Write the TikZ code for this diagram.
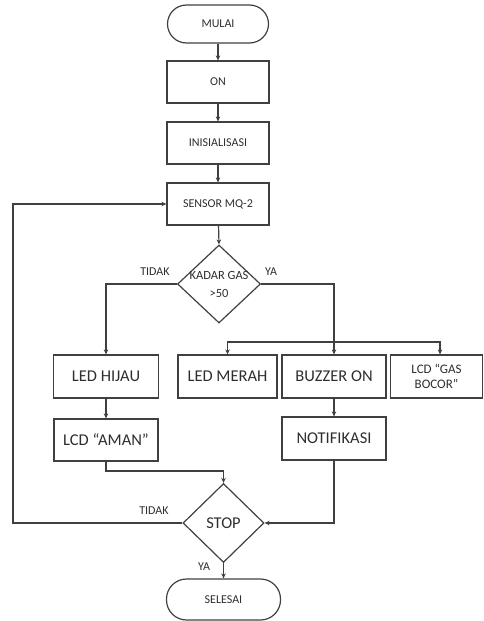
\documentclass[tikz,border=0pt]{standalone}
\usepackage{fontspec}
\setmainfont{Carlito}
\usetikzlibrary{shapes.geometric,arrows.meta}
\definecolor{ln}{HTML}{404040}
\definecolor{tx}{HTML}{2E2E2E}
\begin{document}
\begin{tikzpicture}[x=1pt,y=-1pt,
  base/.style={draw=ln,line width=1.2pt,text=tx,inner sep=0pt,align=center},
  term/.style={base,rectangle,rounded corners=19pt,font=\fontsize{12}{14}\selectfont},
  sbox/.style={base,rectangle,font=\fontsize{12}{14}\selectfont},
  bbox/.style={base,rectangle,font=\fontsize{16.5}{18}\selectfont},
  dec/.style={base,diamond},
  lbl/.style={text=tx,font=\fontsize{12}{14}\selectfont,inner sep=0pt},
  arr/.style={draw=ln,line width=1.2pt,-{Stealth[length=5pt,width=4.5pt]}}]
\useasboundingbox (0,0) rectangle (484,621);
\node[term,minimum width=101pt,minimum height=38pt] (mulai) at (218,24) {MULAI};
\node[sbox,minimum width=102pt,minimum height=42pt] (on) at (218,82) {ON};
\node[sbox,minimum width=102pt,minimum height=42pt] (init) at (218,143) {INISIALISASI};
\node[sbox,minimum width=102pt,minimum height=42pt] (sensor) at (218,204) {SENSOR MQ-2};
\node[dec,minimum width=83pt,minimum height=78pt,
  label={[text=tx,font=\fontsize{12.5}{18}\selectfont,align=center]center:KADAR GAS\\>50}] (kadar) at (219,284) {};
\node[bbox,minimum width=105pt,minimum height=43pt] (ledhijau) at (106,376.5) {LED HIJAU};
\node[bbox,minimum width=99pt,minimum height=43pt] (ledmerah) at (227.5,376.5) {LED MERAH};
\node[bbox,minimum width=104pt,minimum height=43pt] (buzzer) at (334,376.5) {BUZZER ON};
\node[base,font=\fontsize{13}{15}\selectfont,minimum width=92pt,minimum height=43pt] (lcdgas) at (436.5,376.5) {LCD “GAS\\BOCOR”};
\node[bbox,minimum width=104pt,minimum height=42pt] (lcdaman) at (106,440) {LCD “AMAN”};
\node[bbox,minimum width=104pt,minimum height=43pt] (notif) at (334,438.5) {NOTIFIKASI};
\node[dec,minimum width=81pt,minimum height=79pt,
  label={[text=tx,font=\fontsize{16.5}{18}\selectfont]center:STOP}] (stop) at (223.5,523) {};
\node[term,rounded corners=20pt,minimum width=114pt,minimum height=41pt] (selesai) at (223.5,599.5) {SELESAI};
% labels
\node[lbl] (t1) at (155,272) {TIDAK};
\node[lbl] (y1) at (271,272) {YA};
\node[lbl] (t2) at (154,511) {TIDAK};
\node[lbl] (y2) at (204,567) {YA};
% coordinates
\coordinate (split) at (334,342);
\coordinate (j1) at (223.5,471);
\coordinate (loop) at (13,523);
% connectors
\draw[arr] (mulai) -- (on);
\draw[arr] (on) -- (init);
\draw[arr] (init) -- (sensor);
\draw[arr] (sensor) -- (kadar.north);
\draw[arr] (kadar.west) -| (ledhijau.north);
\draw[arr] (kadar.east) -| (buzzer.north);
\draw[arr] (split) -| (ledmerah.north);
\draw[arr] (split) -| ([xshift=3.5pt]lcdgas.north);
\draw[arr] (ledhijau) -- (lcdaman);
\draw[arr] (buzzer) -- (notif);
\draw[arr] (lcdaman.south) |- (j1) -- (stop.north);
\draw[arr] (notif.south) |- (stop.east);
\draw[arr] (stop.west) -- (loop) |- (sensor.west);
\draw[arr] (stop.south) -- (selesai.north);
\end{tikzpicture}
\end{document}
